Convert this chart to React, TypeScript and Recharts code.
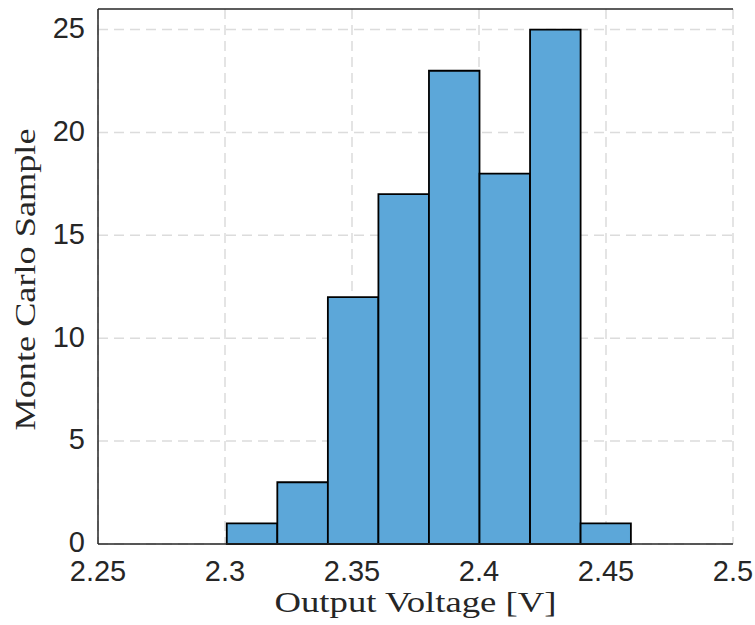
import { ComposedChart, XAxis, YAxis, CartesianGrid, ReferenceArea } from "recharts";

// histogram of output voltage, 100 monte carlo runs
const binEdges = [2.3007, 2.3206, 2.3405, 2.3604, 2.3803, 2.4002, 2.4201, 2.44, 2.4598];
const counts = [1, 3, 12, 17, 23, 18, 25, 1];
const xTicks = [2.25, 2.3, 2.35, 2.4, 2.45, 2.5];
const yTicks = [0, 5, 10, 15, 20, 25];

const bins = counts.map((c, i) => ({ x0: binEdges[i], x1: binEdges[i + 1], count: c }));

const axisColor = "#262626";
const tickFont = { fontFamily: "Liberation Sans, Arial, sans-serif", fontSize: 29, fill: axisColor };

export default function App() {
  return (
    <div style={{ position: "absolute", left: 0, top: 0, background: "#fff" }}>
      <ComposedChart
        width={755}
        height={625}
        data={bins}
        margin={{ top: 9, right: 22, bottom: 0, left: 0 }}
      >
        <CartesianGrid
          stroke="#dcdcdc"
          strokeWidth={1.5}
          strokeDasharray="10 6"
          verticalValues={xTicks}
          horizontalValues={yTicks}
        />
        <XAxis
          type="number"
          dataKey="x0"
          domain={[2.25, 2.5]}
          ticks={xTicks}
          tickFormatter={(v) => String(v)}
          height={81}
          stroke={axisColor}
          strokeWidth={1.5}
          tickLine={false}
          tickSize={6}
          tickMargin={10}
          tick={tickFont}
          allowDataOverflow
          label={{
            content: (p: any) => {
              const vb = p.viewBox;
              return (
                <text
                  x={vb.x + vb.width / 2}
                  y={vb.y + 68}
                  textAnchor="middle"
                  fontFamily="Liberation Serif, Times New Roman, serif"
                  fontSize={29}
                  fill={axisColor}
                  textLength={282}
                  lengthAdjust="spacingAndGlyphs"
                >
                  Output Voltage [V]
                </text>
              );
            },
          }}
        />
        <XAxis xAxisId="bin" type="number" domain={[2.25, 2.5]} ticks={xTicks} mirror
          axisLine={false} tick={false} tickSize={7} stroke={axisColor} strokeWidth={1.5} allowDataOverflow />
        <XAxis xAxisId="top" orientation="top" type="number" domain={[2.25, 2.5]} ticks={xTicks} mirror
          tick={false} tickSize={7} stroke={axisColor} strokeWidth={1.5} allowDataOverflow />
        <YAxis
          type="number"
          domain={[0, 26]}
          ticks={yTicks}
          width={98}
          stroke={axisColor}
          strokeWidth={1.5}
          tickLine={false}
          tickSize={6}
          tickMargin={7}
          tick={{ ...tickFont, dy: -2 }}
          allowDataOverflow
          label={{
            content: (p: any) => {
              const vb = p.viewBox;
              const cx = 35;
              const cy = vb.y + vb.height / 2 + 3;
              return (
                <text
                  x={cx}
                  y={cy}
                  textAnchor="middle"
                  transform={`rotate(-90 ${cx} ${cy})`}
                  fontFamily="Liberation Serif, Times New Roman, serif"
                  fontSize={29}
                  fill={axisColor}
                  textLength={302}
                  lengthAdjust="spacingAndGlyphs"
                >
                  Monte Carlo Sample
                </text>
              );
            },
          }}
        />
        <YAxis yAxisId="lin" type="number" domain={[0, 26]} ticks={yTicks} mirror width={0}
          axisLine={false} tick={false} tickSize={7} stroke={axisColor} strokeWidth={1.5} allowDataOverflow />
        <YAxis yAxisId="right" orientation="right" type="number" domain={[0, 26]} ticks={yTicks} mirror width={0}
          tick={false} tickSize={7} stroke={axisColor} strokeWidth={1.5} allowDataOverflow />
        {bins.map((b, i) => (
          <ReferenceArea
            key={i}
            x1={b.x0}
            x2={b.x1}
            y1={0}
            y2={b.count}
            fill="#5ca7d9"
            fillOpacity={1}
            stroke="#000"
            strokeWidth={1.8}
          />
        ))}
      </ComposedChart>
    </div>
  );
}
